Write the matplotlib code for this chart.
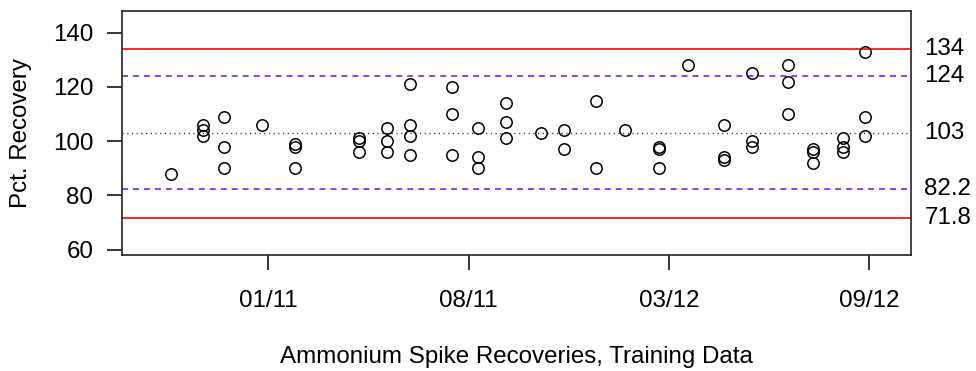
import numpy as np
import matplotlib
matplotlib.use("Agg")
import matplotlib.pyplot as plt
import matplotlib.transforms as mtransforms

plt.rcParams['font.family'] = ['Liberation Sans', 'DejaVu Sans']
plt.rcParams['lines.scale_dashes'] = False

# ---- data ----
sample_dates = (
    ["2010-10-26"]
    + ["2010-11-27"] * 3
    + ["2010-12-18"] * 3
    + ["2011-01-25"]
    + ["2011-02-27"] * 3
    + ["2011-05-01"] * 3
    + ["2011-05-29"] * 3
    + ["2011-06-21"] * 4
    + ["2011-08-02"] * 3
    + ["2011-08-28"] * 3
    + ["2011-09-25"] * 3
    + ["2011-10-30"]
    + ["2011-11-22"] * 2
    + ["2011-12-24"] * 2
    + ["2012-01-22"]
    + ["2012-02-25"] * 3
    + ["2012-03-25"]
    + ["2012-04-30"] * 3
    + ["2012-05-28"] * 3
    + ["2012-07-03"] * 3
    + ["2012-07-28"] * 3
    + ["2012-08-27"] * 3
    + ["2012-09-18"] * 3
)
recovery = [
    88,
    106, 104, 102,
    109, 98, 90,
    106,
    99, 98, 90,
    101, 100, 96,
    105, 100, 96,
    121, 106, 102, 95,
    120, 110, 95,
    105, 94, 90,
    114, 107, 101,
    103,
    104, 97,
    115, 90,
    104,
    98, 97, 90,
    128,
    106, 94, 93,
    125, 100, 98,
    128, 122, 110,
    97, 96, 92,
    101, 98, 96,
    133, 109, 102,
]

center_line = 103
warning_limits = [82.2, 124]
control_limits = [71.8, 134]
limit_labels = ["134", "124", "103", "82.2", "71.8"]
limit_values = [134, 124, 103, 82.2, 71.8]

tick_dates = ["2011-01-31", "2011-08-19", "2012-03-06", "2012-09-22"]
tick_labels = ["01/11", "08/11", "03/12", "09/12"]
y_ticks = [60, 80, 100, 120, 140]

# ---- plot ----
x = np.array(sample_dates, dtype="datetime64[D]")
fs = 17.4

fig = plt.figure(figsize=(9.76, 3.71), dpi=100)
ax = fig.add_axes([0.1253, 0.3127, 0.8081, 0.6577])

for v in control_limits:
    ax.axhline(v, color="#ff0000", lw=1.2)
for v in warning_limits:
    ax.axhline(v, color="#6010ff", lw=1.1, dashes=(4.3, 3.6))
ax.axhline(center_line, color="#222222", lw=1.0, dashes=(0.8, 2.6))

ax.plot(x, recovery, linestyle="none", marker="o", markersize=8.2,
        markerfacecolor="none", markeredgecolor="black", markeredgewidth=1.1)

ax.set_xlim(np.datetime64("2010-09-07"), np.datetime64("2012-11-03"))
ax.set_ylim(58.05, 148.0)

ax.set_xticks(np.array(tick_dates, dtype="datetime64[D]"))
ax.set_xticklabels(tick_labels)
ax.set_yticks(y_ticks)
ax.tick_params(axis="both", labelsize=fs, length=11, width=1.1, direction="out",
               color="black")
ax.tick_params(axis="x", pad=14)
ax.tick_params(axis="y", pad=10)
for s in ax.spines.values():
    s.set_linewidth(1.2)
    s.set_color("#222222")

trans = mtransforms.blended_transform_factory(ax.transAxes, ax.transData)
for lab, v in zip(limit_labels, limit_values):
    ax.text(1.017, v, lab, transform=trans, ha="left", va="center", fontsize=fs)

fig.text(0.0215, 0.6415, "Pct. Recovery", rotation=90, ha="center", va="center",
         fontsize=fs)
fig.text(0.529, 0.038, "Ammonium Spike Recoveries, Training Data", ha="center",
         va="center", fontsize=fs)

fig.savefig("out.png", dpi=100)
